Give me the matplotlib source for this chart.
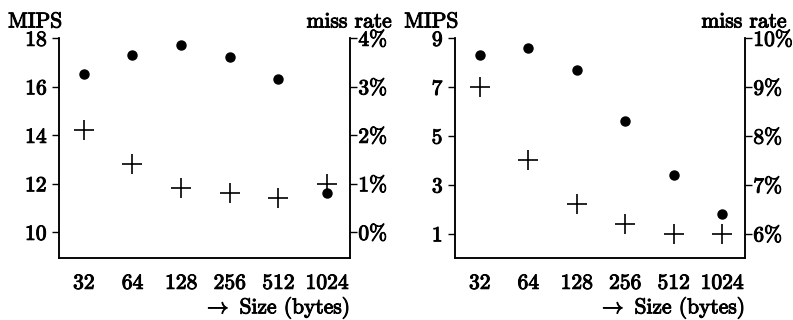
import matplotlib.pyplot as plt
import matplotlib.patheffects as pe
import numpy as np

plt.rcParams['font.family'] = 'cmr10'
plt.rcParams['mathtext.fontset'] = 'cm'
plt.rcParams['axes.unicode_minus'] = False
plt.rcParams['font.size'] = 15.5

sizes = ['32', '64', '128', '256', '512', '1024']

# left panel
mips_a = [16.5, 17.3, 17.7, 17.2, 16.3, 11.6]
miss_a = [2.1, 1.4, 0.9, 0.8, 0.7, 1.0]
mips_ticks_a = [10, 12, 14, 16, 18]
miss_ticks_a = [0, 1, 2, 3, 4]

# right panel
mips_b = [8.3, 8.6, 7.7, 5.6, 3.4, 1.8]
miss_b = [9.0, 7.5, 6.6, 6.2, 6.0, 6.0]
mips_ticks_b = [1, 3, 5, 7, 9]
miss_ticks_b = [6, 7, 8, 9, 10]

W, H = 793, 320
fig = plt.figure(figsize=(W / 100, H / 100), dpi=100)
bold = [pe.withStroke(linewidth=0.7, foreground='black')]


def panel(x0, x1, mips, miss, mticks, rticks, mlim, rlim):
    ax = fig.add_axes([x0 / W, 62 / H, (x1 - x0) / W, 220 / H])
    ax2 = ax.twinx()
    x = np.arange(len(sizes))
    ax.plot(x, mips, 'o', color='black', markersize=6.5, zorder=3)
    ax2.plot(x, miss, '+', color='black', markersize=14, markeredgewidth=1.2, zorder=3)
    ax.set_xlim(-0.51, 5.47)
    ax.set_ylim(*mlim)
    ax2.set_ylim(*rlim)
    ax.set_xticks(x)
    ax.set_xticklabels(sizes)
    ax.set_yticks(mticks)
    ax2.set_yticks(rticks)
    ax2.set_yticklabels([f'{t}%' for t in rticks])
    ax.tick_params(axis='x', length=0, pad=11)
    ax.tick_params(axis='y', direction='out', length=5, width=1, pad=4)
    ax2.tick_params(axis='y', direction='out', length=5, width=1, pad=1)
    for a in (ax, ax2):
        a.spines['top'].set_visible(False)
        for s in a.spines.values():
            s.set_linewidth(1.1)
        for lab in a.get_xticklabels() + a.get_yticklabels():
            lab.set_path_effects(bold)
    ax.text(1.0, -0.165, r'$\rightarrow$ Size (bytes)', transform=ax.transAxes,
            ha='right', va='top', path_effects=bold)
    ax.text(-0.175, 1.03, 'MIPS', transform=ax.transAxes, ha='left', va='bottom',
            path_effects=bold)
    ax2.text(1.145, 1.03, 'miss rate', transform=ax.transAxes, ha='right', va='bottom',
             path_effects=bold)
    return ax


panel(59, 350, mips_a, miss_a, mips_ticks_a, miss_ticks_a,
      (8.93, 18), ((8.93 - 10) / 2, 4))
panel(455, 745, mips_b, miss_b, mips_ticks_b, miss_ticks_b,
      (0.0, 9), (5.5, 10))

fig.savefig('out.png', dpi=100)
